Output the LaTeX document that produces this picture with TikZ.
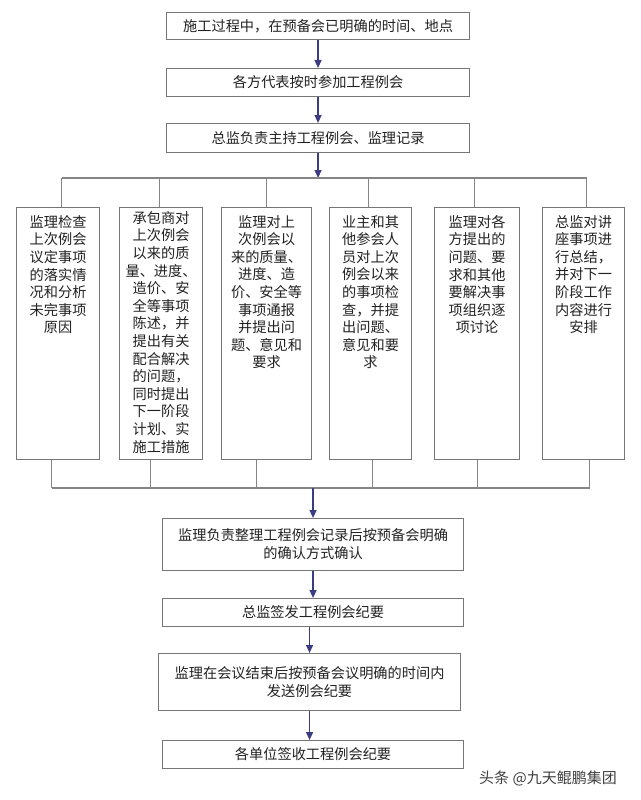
\documentclass[tikz,border=0pt]{standalone}
\usepackage{fontspec}
\setmainfont{Noto Sans CJK SC}
\usetikzlibrary{arrows.meta}
\definecolor{boxline}{HTML}{767676}
\definecolor{lnc}{HTML}{858585}
\definecolor{arrowc}{HTML}{3C3C84}
\definecolor{txt}{HTML}{222222}
\begin{document}
\begin{tikzpicture}[x=1pt,y=-1pt,
  font=\fontsize{14.2}{17.6}\selectfont,
  box/.style={draw=boxline, line width=1.1pt, rectangle, inner sep=0pt,
    anchor=north west, text=txt, align=center},
  coltext/.style={anchor=north, inner sep=0pt, align=center, text=txt},
  ln/.style={draw=lnc, line width=1.1pt},
  arr/.style={draw=arrowc, line width=1.3pt, -{Triangle[length=8pt,width=7pt]}}]
\useasboundingbox[fill=white] (0,0) rectangle (640,800);

% top boxes
\node[box, minimum width=303pt, minimum height=27pt] (t1) at (166,12) {施工过程中，在预备会已明确的时间、地点};
\node[box, minimum width=303pt, minimum height=28pt] (t2) at (166,68) {各方代表按时参加工程例会};
\node[box, minimum width=303pt, minimum height=29pt] (t3) at (166,123) {总监负责主持工程例会、监理记录};

% column boxes
\node[box, minimum width=83pt, minimum height=252pt] (cA) at (16,207) {};
\node[box, minimum width=83pt, minimum height=252pt] (cB) at (119,207) {};
\node[box, minimum width=90pt, minimum height=252pt] (cC) at (221,207) {};
\node[box, minimum width=82pt, minimum height=252pt] (cD) at (329,207) {};
\node[box, minimum width=85pt, minimum height=252pt] (cE) at (434,207) {};
\node[box, minimum width=82pt, minimum height=252pt] (cF) at (542,207) {};

\node[coltext] (xA) at ([yshift=-8pt]cA.north) {监理检查\\上次例会\\议定事项\\的落实情\\况和分析\\未完事项\\原因};
\node[coltext] (xB) at ([yshift=-4pt]cB.north) {承包商对\\上次例会\\以来的质\\量、进度、\\造价、安\\全等事项\\陈述，并\\提出有关\\配合解决\\的问题，\\同时提出\\下一阶段\\计划、实\\施工措施};
\node[coltext] (xC) at ([yshift=-8pt]cC.north) {监理对上\\次例会以\\来的质量、\\进度、造\\价、安全等\\事项通报\\并提出问\\题、意见和\\要求};
\node[coltext] (xD) at ([yshift=-8pt]cD.north) {业主和其\\他参会人\\员对上次\\例会以来\\的事项检\\查，并提\\出问题、\\意见和要\\求};
\node[coltext] (xE) at ([yshift=-8pt]cE.north) {监理对各\\方提出的\\问题、要\\求和其他\\要解决事\\项组织逐\\项讨论};
\node[coltext] (xF) at ([yshift=-8pt]cF.north) {总监对讲\\座事项进\\行总结，\\并对下一\\阶段工作\\内容进行\\安排};

% bottom boxes
\node[box, minimum width=301pt, minimum height=52pt, font=\fontsize{14.2}{18}\selectfont] (g) at (162,518) {监理负责整理工程例会记录后按预备会明确\\的确认方式确认};
\node[box, minimum width=301pt, minimum height=28pt] (h) at (162,598) {总监签发工程例会纪要};
\node[box, minimum width=302pt, minimum height=57pt, font=\fontsize{14.2}{17.5}\selectfont] (i) at (158,653) {监理在会议结束后按预备会议明确的时间内\\发送例会纪要};
\node[box, minimum width=301pt, minimum height=28pt] (j) at (162,740) {各单位签收工程例会纪要};

% bus coordinates
\coordinate (bt) at (0,178);
\coordinate (bb) at (0,488);

% top connectors
\draw[arr] (t1.south) -- (t2.north);
\draw[arr] (t2.south) -- (t3.north);
\draw[arr] (t3.south) -- (t3.south |- bt);
\draw[ln] ([xshift=3.5pt]cA.north |- bt) -- ([xshift=3pt]cF.north |- bt);
\draw[ln] ([xshift=3.5pt]cA.north) -- ([xshift=3.5pt]cA.north |- bt);
\draw[ln] ([xshift=-1.5pt]cB.north) -- ([xshift=-1.5pt]cB.north |- bt);
\draw[ln] (cC.north) -- (cC.north |- bt);
\draw[ln] ([xshift=-2pt]cD.north) -- ([xshift=-2pt]cD.north |- bt);
\draw[ln] ([xshift=-2.5pt]cE.north) -- ([xshift=-2.5pt]cE.north |- bt);
\draw[ln] ([xshift=3pt]cF.north) -- ([xshift=3pt]cF.north |- bt);

% bottom bus
\draw[ln] ([xshift=-6.5pt]cA.south |- bb) -- ([xshift=6pt]cF.south |- bb);
\draw[ln] ([xshift=-6.5pt]cA.south) -- ([xshift=-6.5pt]cA.south |- bb);
\draw[ln] ([xshift=-11pt]cB.south) -- ([xshift=-11pt]cB.south |- bb);
\draw[ln] ([xshift=-10.5pt]cC.south) -- ([xshift=-10.5pt]cC.south |- bb);
\draw[ln] ([xshift=1.5pt]cD.south) -- ([xshift=1.5pt]cD.south |- bb);
\draw[ln] (cE.south) -- (cE.south |- bb);
\draw[ln] ([xshift=6pt]cF.south) -- ([xshift=6pt]cF.south |- bb);

\draw[arr] (g.north |- bb) -- (g.north);
\draw[arr] (g.south) -- (h.north);
\draw[arr] (h.south -| i.north) -- (i.north);
\draw[arr] (i.south) -- (i.south |- j.north);

% watermark
\node[anchor=west, inner sep=0pt, text=black!75, font=\fontsize{15}{18}\selectfont] (wm) at (479,778) {头条 @九天鲲鹏集团};
\end{tikzpicture}
\end{document}
